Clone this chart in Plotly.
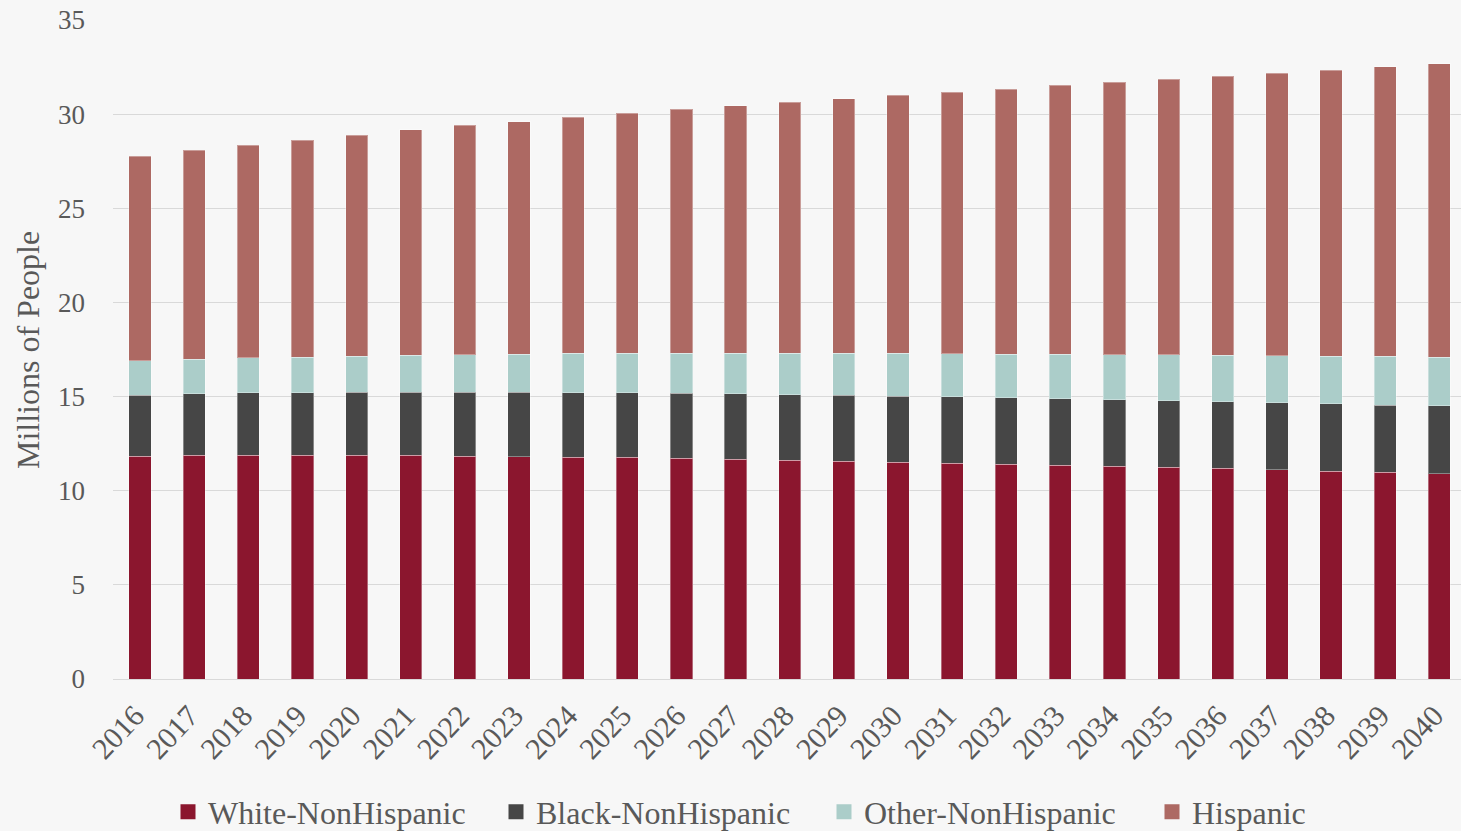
import plotly.graph_objects as go

years = [str(y) for y in range(2016, 2041)]

# Population by group, millions of people
white_nonhispanic = [11.84, 11.88, 11.88, 11.88, 11.88, 11.88, 11.83, 11.81, 11.77, 11.77,
                     11.72, 11.67, 11.61, 11.56, 11.51, 11.46, 11.40, 11.35, 11.29, 11.24,
                     11.19, 11.12, 11.03, 10.98, 10.90]
black_nonhispanic = [3.24, 3.26, 3.31, 3.32, 3.35, 3.35, 3.40, 3.42, 3.44, 3.42,
                     3.45, 3.47, 3.49, 3.52, 3.52, 3.52, 3.54, 3.54, 3.54, 3.54,
                     3.54, 3.55, 3.59, 3.57, 3.60]
other_nonhispanic = [1.81, 1.84, 1.86, 1.90, 1.92, 1.96, 1.99, 2.03, 2.09, 2.12,
                     2.14, 2.17, 2.21, 2.23, 2.27, 2.30, 2.32, 2.35, 2.39, 2.43,
                     2.46, 2.50, 2.53, 2.59, 2.60]
hispanic = [10.88, 11.09, 11.31, 11.52, 11.74, 11.97, 12.20, 12.34, 12.53, 12.73,
            12.94, 13.14, 13.32, 13.51, 13.70, 13.89, 14.07, 14.29, 14.47, 14.64,
            14.81, 14.99, 15.19, 15.38, 15.58]

series = [
    ("White-NonHispanic", white_nonhispanic, "#8B162E"),
    ("Black-NonHispanic", black_nonhispanic, "#464646"),
    ("Other-NonHispanic", other_nonhispanic, "#ABCDC9"),
    ("Hispanic", hispanic, "#AD6963"),
]

FONT = "Liberation Serif"
TXT = "#595959"

fig = go.Figure()
for name, vals, color in series:
    fig.add_trace(go.Bar(
        x=years, y=vals, name=name, legendgroup=name, showlegend=False,
        marker=dict(color=color, line=dict(color="rgba(255,255,255,0.35)", width=1)),
    ))
# Legend keys: square swatches
for name, vals, color in series:
    fig.add_trace(go.Scatter(
        x=[None], y=[None], mode="markers", name=name, legendgroup=name,
        marker=dict(symbol="square", size=15, color=color),
    ))

fig.update_layout(
    barmode="stack",
    bargap=0.59,
    width=1461, height=831,
    margin=dict(l=113, r=0, t=20, b=152),
    paper_bgcolor="#f7f7f7",
    plot_bgcolor="rgba(0,0,0,0)",
    font=dict(family=FONT, color=TXT, size=26),
    showlegend=True,
    legend=dict(
        orientation="h",
        xref="container", yref="container",
        x=168 / 1461, xanchor="left",
        y=1 - 812 / 831, yanchor="middle",
        font=dict(family=FONT, size=32, color=TXT),
        traceorder="normal",
        entrywidth=283, entrywidthmode="pixels",
        bgcolor="rgba(0,0,0,0)",
    ),
    xaxis=dict(
        type="category",
        range=[-0.5, 24.4],
        tickangle=-47,
        tickfont=dict(family=FONT, size=30, color=TXT),
        showgrid=False,
        showline=False,
        ticks="",
        ticklabelstandoff=12,
        ticklabelshift=-5,
        automargin=False,
    ),
    yaxis=dict(
        range=[0, 35],
        dtick=5,
        tickfont=dict(family=FONT, size=27, color=TXT),
        gridcolor="#d9d9d9",
        gridwidth=1,
        zeroline=True,
        zerolinecolor="#d9d9d9",
        zerolinewidth=1,
        ticks="",
        ticklabelstandoff=27,
        automargin=False,
    ),
    annotations=[dict(
        text="Millions of People",
        textangle=-90,
        xref="paper", yref="paper",
        x=(28 - 113) / 1348, y=(679 - 350) / 659,
        xanchor="center", yanchor="middle",
        showarrow=False,
        font=dict(family=FONT, size=32, color=TXT),
    )],
)

fig.write_html("out.html")
